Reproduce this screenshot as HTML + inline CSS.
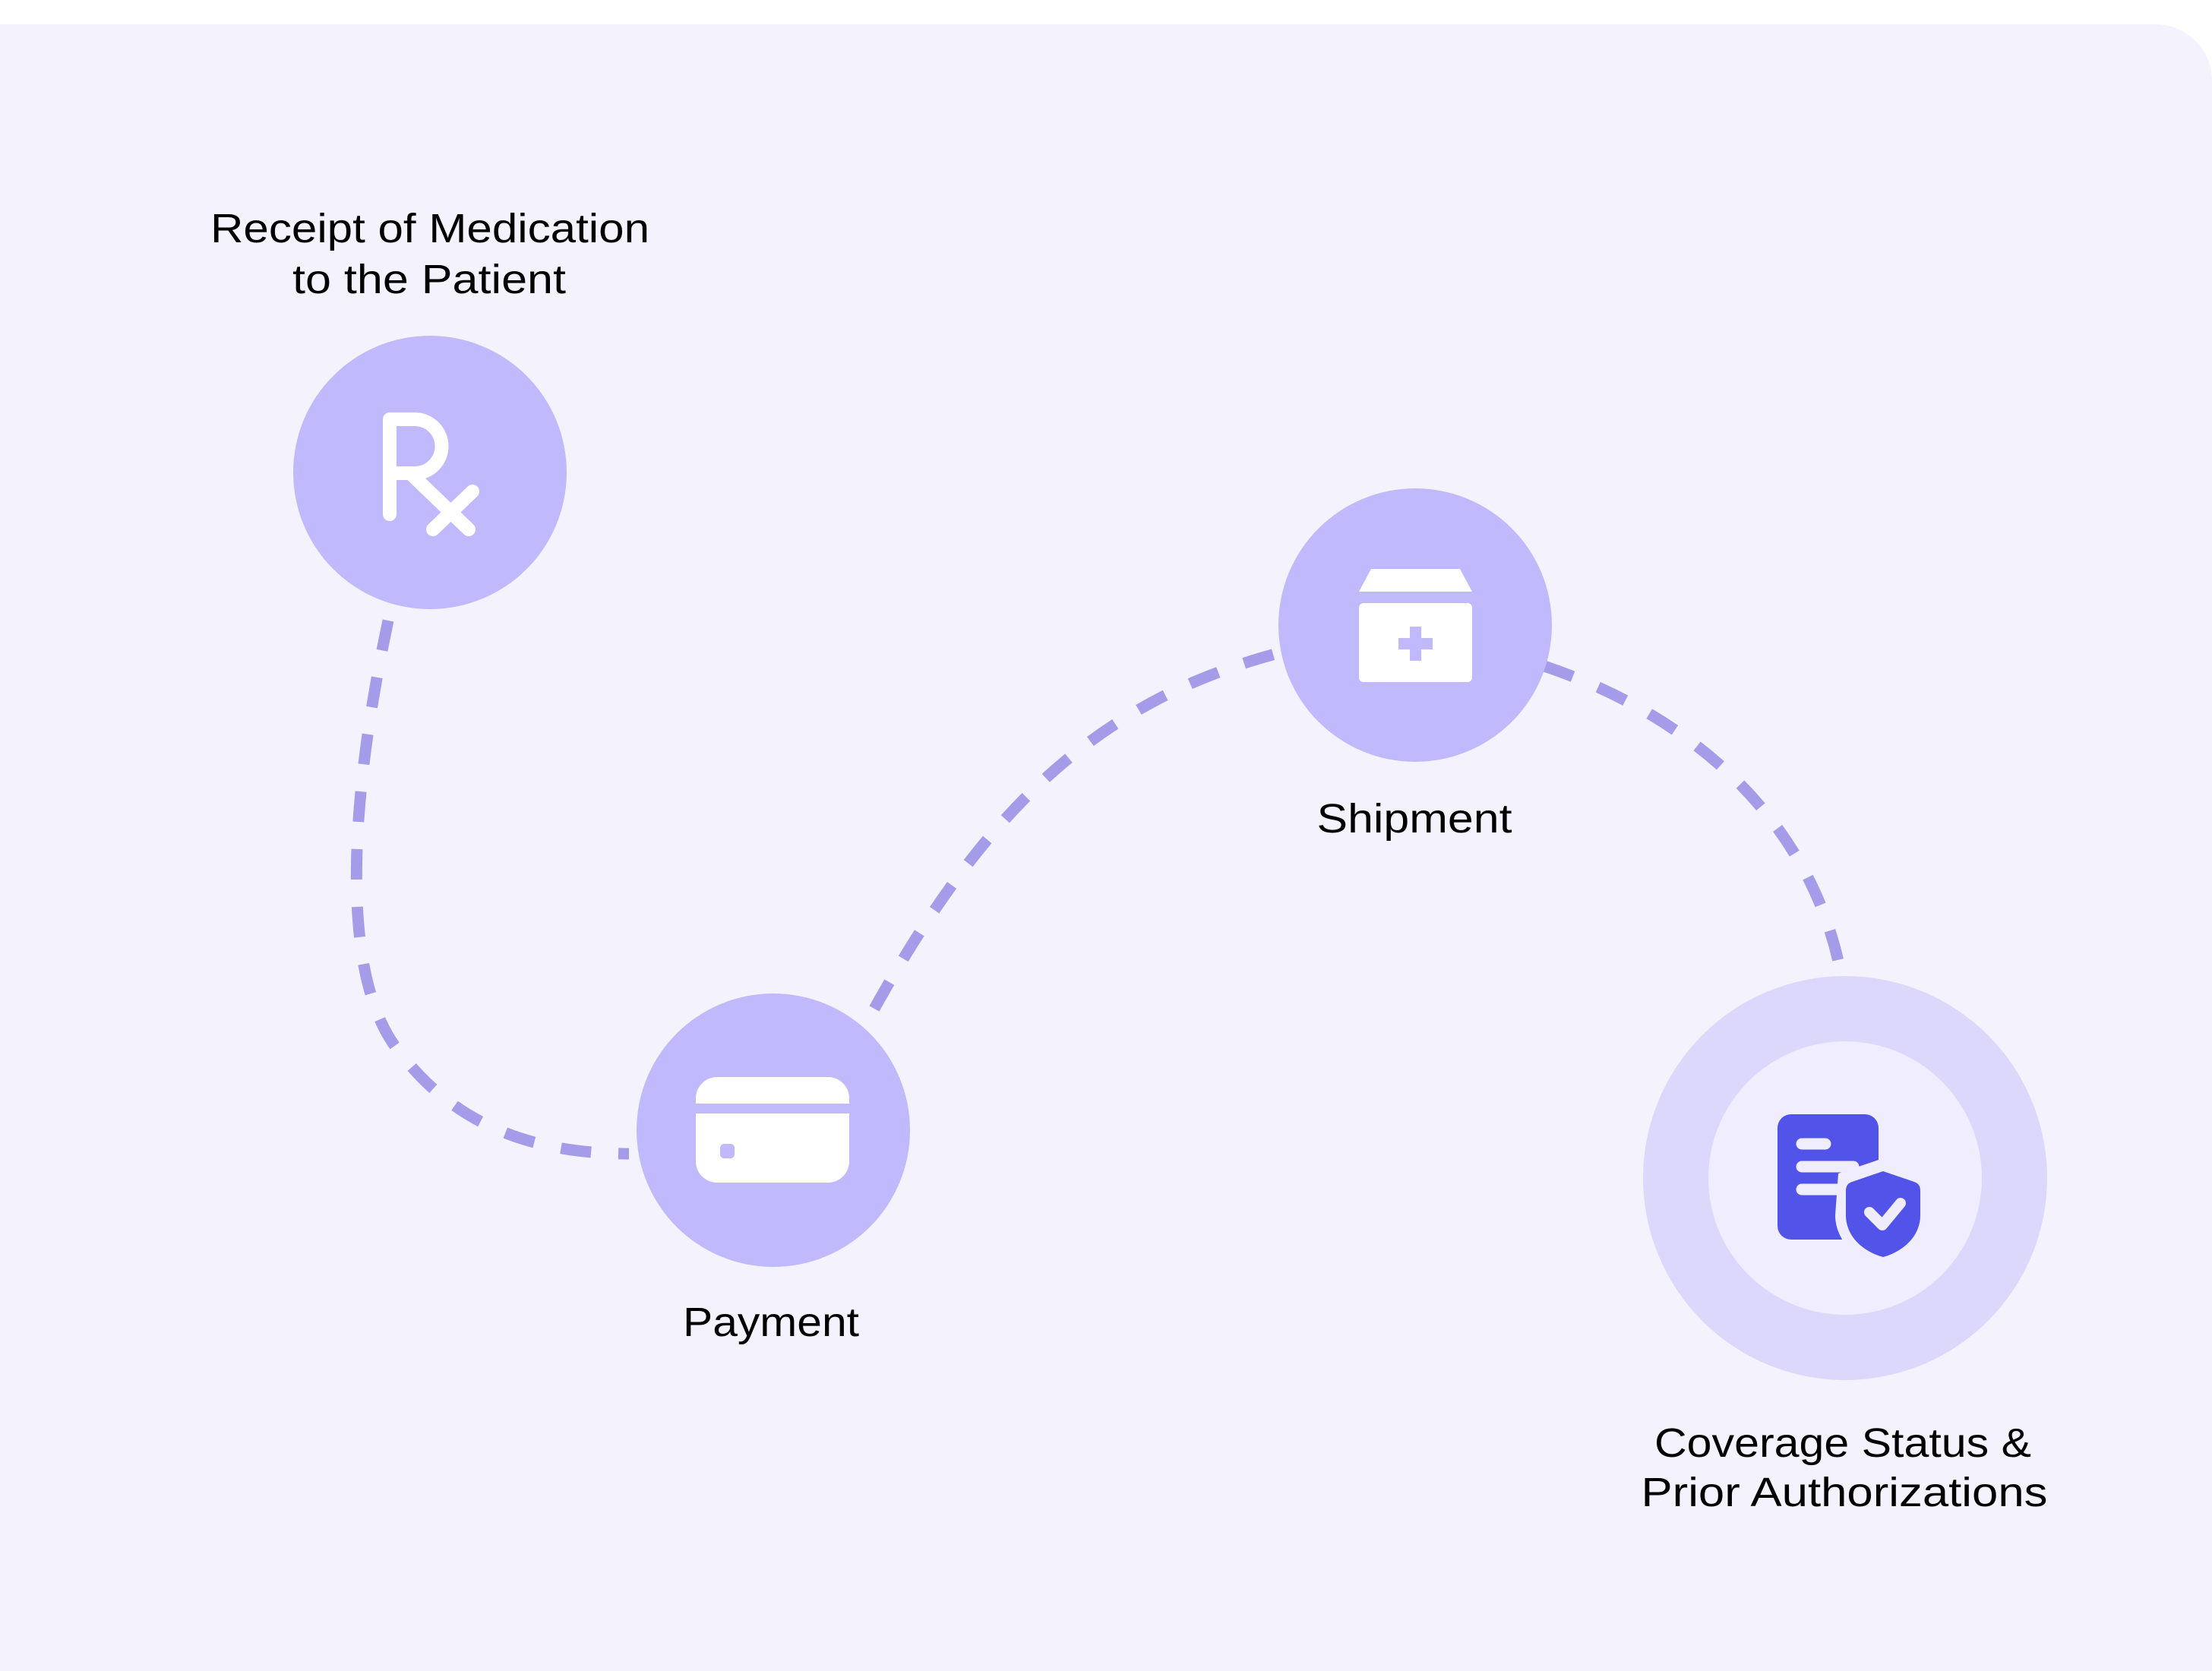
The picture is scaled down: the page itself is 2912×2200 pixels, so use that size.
<!DOCTYPE html>
<html><head><meta charset="utf-8"><style>
html,body{margin:0;padding:0;background:#fff;width:2912px;height:2200px;overflow:hidden}
svg{display:block}
text{font-family:"Liberation Sans",sans-serif;font-size:54px;fill:#000;text-anchor:middle}
</style></head><body>
<svg width="2912" height="2200" viewBox="0 0 2912 2200" xmlns="http://www.w3.org/2000/svg">
<path d="M0,32 H2838 A74,74 0 0 1 2912,106 V2200 H0 Z" fill="#f4f3fd"/>
<g fill="none" stroke="#a49ce8" stroke-width="15" stroke-dasharray="40 36">
<path d="M511,817 C455,1080 450,1300 530,1390 C600,1480 700,1519 828,1519"/>
<path d="M1151,1328 C1300,1060 1450,920 1690,858"/>
<path d="M2033,877 C2250,950 2390,1100 2424,1285"/>
</g>
<circle cx="566" cy="622" r="180" fill="#c0b9fc"/>
<circle cx="1018" cy="1488" r="180" fill="#c0b9fc"/>
<circle cx="1863" cy="823" r="180" fill="#c0b9fc"/>
<circle cx="2429" cy="1551" r="266" fill="#dcd8fc"/>
<circle cx="2429" cy="1551" r="180" fill="#efedfe"/>
<g fill="none" stroke="#fff" stroke-width="18" stroke-linecap="round" stroke-linejoin="round">
<path d="M513,677 V552 H546 A35.5,35.5 0 0 1 546,623 H513"/>
<path d="M540,623 L617,697"/>
<path d="M622,647 L570,697"/>
</g>
<rect x="916" y="1418" width="202" height="139" rx="28" fill="#fff"/>
<rect x="910" y="1453" width="214" height="13" fill="#c0b9fc"/>
<rect x="948" y="1506" width="19" height="19" rx="5" fill="#c0b9fc"/>
<path d="M1805,749 H1922 L1938,779 H1789 Z" fill="#fff"/>
<rect x="1789" y="794" width="149" height="104" rx="6" fill="#fff"/>
<rect x="1856" y="825" width="15" height="45" fill="#c0b9fc"/>
<rect x="1841" y="840" width="45" height="15" fill="#c0b9fc"/>
<rect x="2340" y="1467" width="133" height="165" rx="18" fill="#5253e9"/>
<g stroke="#efedfe" stroke-width="15" stroke-linecap="round">
<line x1="2372" y1="1506" x2="2403" y2="1506"/>
<line x1="2372" y1="1536" x2="2440" y2="1536"/>
<line x1="2372" y1="1566" x2="2420" y2="1566"/>
</g>
<path d="M2479,1525 L2420,1545 L2416,1600 C2416,1630 2440,1660 2479,1670 L2545,1660 L2545,1530 Z" fill="#efedfe"/>
<path d="M2479,1542 L2520,1556 C2526,1558 2528,1562 2528,1568 V1600 C2528,1628 2505,1648 2479,1655 C2453,1648 2430,1628 2430,1600 V1568 C2430,1562 2432,1558 2438,1556 Z" fill="#5253e9"/>
<path d="M2461,1596 L2478,1613 L2502,1584" fill="none" stroke="#efedfe" stroke-width="14" stroke-linecap="round" stroke-linejoin="round"/>
<text x="566" y="319" textLength="578" lengthAdjust="spacingAndGlyphs">Receipt of Medication</text>
<text x="565" y="386" textLength="360" lengthAdjust="spacingAndGlyphs">to the Patient</text>
<text x="1862" y="1096" textLength="257" lengthAdjust="spacingAndGlyphs">Shipment</text>
<text x="1015" y="1759" textLength="232" lengthAdjust="spacingAndGlyphs">Payment</text>
<text x="2426" y="1918" textLength="496" lengthAdjust="spacingAndGlyphs">Coverage Status &amp;</text>
<text x="2428" y="1983" textLength="535" lengthAdjust="spacingAndGlyphs">Prior Authorizations</text>
</svg>
</body></html>
